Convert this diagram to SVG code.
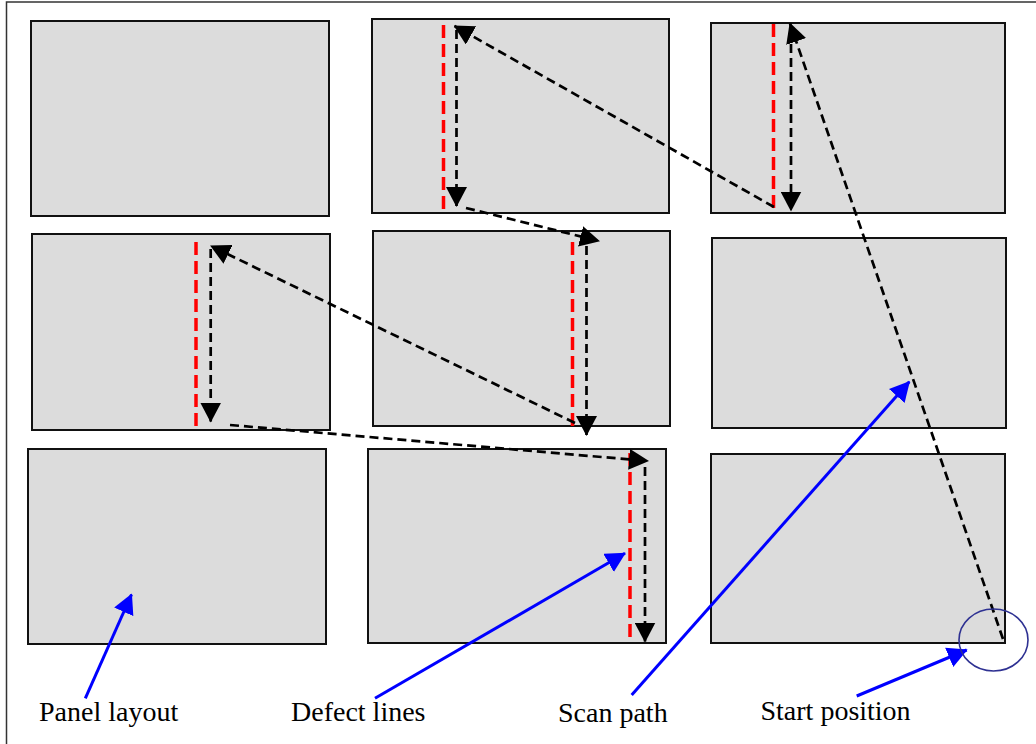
<svg xmlns="http://www.w3.org/2000/svg" width="1036" height="744" viewBox="0 0 1036 744">
  <style>
    .panel { fill: #dcdcdc; stroke: #111; stroke-width: 2; }
    .defect { stroke: #ff0000; stroke-width: 3.5; stroke-dasharray: 13 6; stroke-dashoffset: 17; fill: none; }
    .scan { stroke: #000; stroke-width: 2.7; stroke-dasharray: 9 5; fill: none; marker-end: url(#headBlack); }
    .note { stroke: #0000ff; stroke-width: 3; fill: none; marker-end: url(#headBlue); }
    .label { font-family: "Liberation Serif", "Times New Roman", serif; font-size: 28px; fill: #000; }
    .frame { stroke: #333; stroke-width: 1.5; fill: none; }
  </style>
  <defs>
    <marker id="headBlack" markerUnits="userSpaceOnUse" viewBox="0 0 20 21" markerWidth="20" markerHeight="21" refX="19" refY="10.5" orient="auto">
      <path d="M0,0 L20,10.5 L0,21 Z" fill="#000"/>
    </marker>
    <marker id="headBlue" markerUnits="userSpaceOnUse" viewBox="0 0 20 21" markerWidth="20" markerHeight="21" refX="19" refY="10.5" orient="auto">
      <path d="M0,0 L20,10.5 L0,21 Z" fill="#0000ff"/>
    </marker>
  </defs>

  <rect width="1036" height="744" fill="#fff"/>
  <path class="frame" d="M6.5,744 V2 H1036"/>

  <!-- panel grid -->
  <g id="panel-r1c1"><rect class="panel" x="31" y="21" width="298" height="195"/></g>
  <g id="panel-r1c2"><rect class="panel" x="372" y="19" width="297" height="194"/></g>
  <g id="panel-r1c3"><rect class="panel" x="711" y="23" width="294" height="190"/></g>
  <g id="panel-r2c1"><rect class="panel" x="32" y="234" width="298" height="196"/></g>
  <g id="panel-r2c2"><rect class="panel" x="373" y="231" width="297" height="195"/></g>
  <g id="panel-r2c3"><rect class="panel" x="712" y="238" width="294" height="190"/></g>
  <g id="panel-r3c1"><rect class="panel" x="28" y="449" width="298" height="195"/></g>
  <g id="panel-r3c2"><rect class="panel" x="368" y="449" width="298" height="194"/></g>
  <g id="panel-r3c3"><rect class="panel" x="711" y="454" width="294" height="189"/></g>

  <!-- defect lines -->
  <g id="defects">
    <line class="defect" x1="443.5" y1="23" x2="443.5" y2="213"/>
    <line class="defect" x1="773.5" y1="22" x2="773.5" y2="211"/>
    <line class="defect" x1="196" y1="240" x2="196" y2="430"/>
    <line class="defect" x1="572.5" y1="240" x2="572.5" y2="429"/>
    <line class="defect" x1="630" y1="451" x2="630" y2="643"/>
  </g>

  <!-- scan path -->
  <g id="connectors">
    <line class="scan" x1="1003" y1="639" x2="790" y2="23.5"/>
    <line class="scan" x1="791" y1="30" x2="791" y2="210.5"/>
    <line class="scan" x1="774" y1="207" x2="454.5" y2="26"/>
    <line class="scan" x1="456.5" y1="30" x2="456.5" y2="206"/>
    <line class="scan" x1="466" y1="208" x2="599" y2="241"/>
    <line class="scan" x1="586.5" y1="246" x2="586.5" y2="435"/>
    <line class="scan" x1="575" y1="423" x2="211" y2="246"/>
    <line class="scan" x1="210.7" y1="249" x2="210.7" y2="421.5"/>
    <line class="scan" x1="230" y1="425" x2="648" y2="461"/>
    <line class="scan" x1="645" y1="467" x2="645" y2="641.5"/>

    <!-- callout arrows -->
    <line class="note" x1="85.3" y1="698.3" x2="131.5" y2="594.5"/>
    <line class="note" x1="375" y1="698.3" x2="625" y2="553.3"/>
    <line class="note" x1="631.7" y1="695" x2="909.3" y2="381.7"/>
    <line class="note" x1="856.7" y1="696" x2="966.7" y2="650"/>
  </g>

  <!-- start marker -->
  <g id="start-position">
    <ellipse cx="993.5" cy="640" rx="34.5" ry="31" fill="none" stroke="#2e3192" stroke-width="1.6"/>
  </g>

  <!-- captions -->
  <g id="labels">
    <text class="label" x="39" y="721">Panel layout</text>
    <text class="label" x="291" y="721">Defect lines</text>
    <text class="label" x="558" y="722">Scan path</text>
    <text class="label" x="760.5" y="719.5">Start position</text>
  </g>
</svg>
